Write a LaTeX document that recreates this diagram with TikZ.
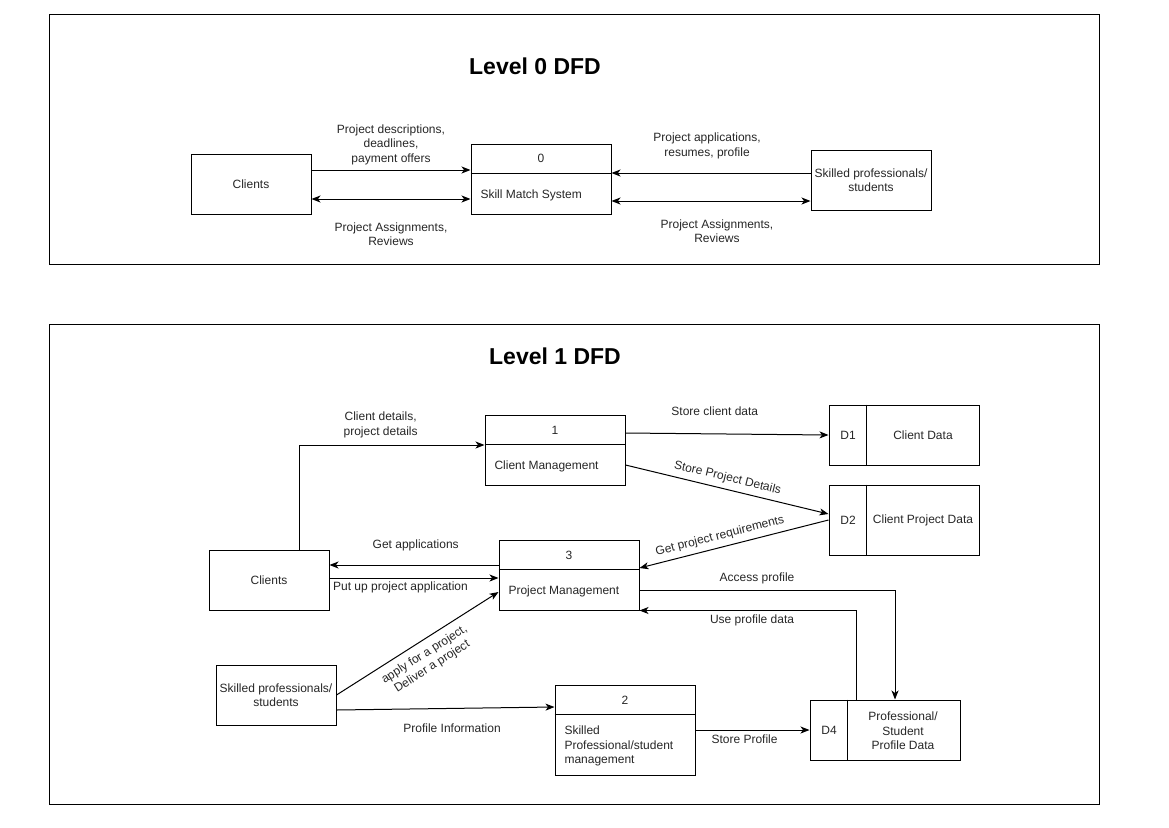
\documentclass[tikz,border=0pt]{standalone}
\usepackage{fontspec}
\setmainfont{Liberation Sans}
\usetikzlibrary{arrows.meta}

\begin{document}
\begin{tikzpicture}[x=1pt,y=-1pt]
\tikzset{every node/.style = {font=\fontsize{12pt}{14.5pt}\selectfont, text=black!85}}
\tikzset{frame/.style = {draw, line width=1pt, inner sep=0pt, minimum width=1050pt}}
\tikzset{title/.style = {font=\fontsize{23pt}{26pt}\selectfont\bfseries, text=black}}
\tikzset{entity/.style = {draw, line width=1pt, align=center, inner sep=0pt, minimum width=120pt, minimum height=60pt}}
\tikzset{proc/.style = {draw, line width=1pt, inner sep=0pt, minimum width=140pt, minimum height=70pt}}
\tikzset{store/.style = {draw, line width=1pt, inner sep=0pt, minimum width=150pt, minimum height=60pt}}
\tikzset{edge/.style = {-{Stealth[length=9pt,width=7pt,inset=2.5pt]}, line width=1pt}}
\tikzset{both/.style = {{Stealth[length=9pt,width=7pt,inset=2.5pt]}-{Stealth[length=9pt,width=7pt,inset=2.5pt]}, line width=1pt}}
\tikzset{lbl/.style = {align=center, inner sep=2pt}}
\tikzset{divide/.style = {line width=1pt}}
\useasboundingbox (0,0) rectangle (1169,827);
% frames
\node[frame, minimum height=250pt] (lvl0) at (574,139) {};
\node[frame, minimum height=480pt] (lvl1) at (574,564) {};
\node[title] (title0) at (535,66) {Level 0 DFD};
\node[title] (title1) at (555,356) {Level 1 DFD};
% level 0 vertices
\node[entity] (client0) at (251,184) {Clients};
\node[proc] (sys0) at (541,179) {};
\draw[divide] ([yshift=-30pt]sys0.north west) -- ([yshift=-30pt]sys0.north east);
\node (sys0id) at (541,158) {0};
\node[anchor=west] (sys0name) at (477,195) {Skill Match System};
\node[entity] (pro0) at (871,180) {Skilled professionals/\\students};
% level 0 edges
\draw[edge] ([yshift=14pt]client0.east) -- ([yshift=14pt]client0.east -| sys0.west)
  node[lbl, midway, above=3pt] (l01) {Project descriptions,\\deadlines,\\payment offers};
\draw[both] ([yshift=-15pt]client0.east) -- ([yshift=-15pt]client0.east -| sys0.west)
  node[lbl, midway, below=21pt] (l02) {Project Assignments,\\Reviews};
\draw[edge] ([yshift=7pt]pro0.west) -- ([yshift=7pt]pro0.west -| sys0.east)
  node[lbl, pos=0.52, above=12pt] (l03) {Project applications,\\resumes, profile};
\draw[both] ([yshift=-21pt]pro0.west) -- ([yshift=-21pt]pro0.west -| sys0.east)
  node[lbl, pos=0.47, below=16pt] (l04) {Project Assignments,\\Reviews};
% level 1 vertices
\node[proc] (cm) at (555,450) {};
\draw[divide] ([yshift=-30pt]cm.north west) -- ([yshift=-30pt]cm.north east);
\node (cmid) at (555,430) {1};
\node[anchor=west] (cmname) at (491,466) {Client Management};
\node[store] (cd) at (904,435) {};
\draw[divide] ([xshift=38pt]cd.north west) -- ([xshift=38pt]cd.south west);
\node (cdid) at (848,435) {D1};
\node (cdname) at (923,435) {Client Data};
\node[store, minimum height=70pt] (cpd) at (904,520) {};
\draw[divide] ([xshift=38pt]cpd.north west) -- ([xshift=38pt]cpd.south west);
\node (cpdid) at (848,520) {D2};
\node (cpdname) at (923,520) {Client Project Data};
\node[proc] (pm) at (569,575) {};
\draw[divide] ([yshift=-30pt]pm.north west) -- ([yshift=-30pt]pm.north east);
\node (pmid) at (569,555) {3};
\node[anchor=west] (pmname) at (505,591) {Project Management};
\node[entity] (client1) at (269,580) {Clients};
\node[entity] (pro1) at (276,695) {Skilled professionals/\\students};
\node[proc, minimum height=90pt] (spm) at (625,730) {};
\draw[divide] ([yshift=-30pt]spm.north west) -- ([yshift=-30pt]spm.north east);
\node (spmid) at (625,700) {2};
\node[anchor=west, align=left] (spmname) at (561,746) {Skilled\\Professional/student\\management};
\node[store] (ppd) at (885,730) {};
\draw[divide] ([xshift=38pt]ppd.north west) -- ([xshift=38pt]ppd.south west);
\node (ppdid) at (829,730) {D4};
\node[align=center] (ppdname) at (903,731) {Professional/\\Student\\Profile Data};
% level 1 edges
\draw[edge] ([xshift=30pt]client1.north) |- ([yshift=5pt]cm.west)
  node[lbl, pos=0.72, above=5pt] (l11) {Client details,\\project details};
\draw[edge] ([yshift=17pt]cm.east) -- (cd.west)
  node[lbl, pos=0.44, above=16pt] (l12) {Store client data};
\draw[edge] ([yshift=-15pt]cm.east) -- ([yshift=6pt]cpd.west)
  node[lbl, sloped, pos=0.49, above=3pt] (l13) {Store Project Details};
\draw[edge] (cpd.west) -- ([yshift=7pt]pm.east)
  node[lbl, sloped, pos=0.56, above=3pt] (l14) {Get project requirements};
\draw[edge] ([yshift=10pt]pm.west) -- ([yshift=10pt]pm.west -| client1.east)
  node[lbl, pos=0.49, above=12pt] (l15) {Get applications};
\draw[edge] ([yshift=2pt]client1.east) -- ([yshift=2pt]client1.east -| pm.west)
  node[lbl, pos=0.42, below=1pt] (l16) {Put up project application};
\draw[edge] ([yshift=-15pt]pm.east) -| ([xshift=10pt]ppd.north)
  node[lbl, pos=0.23, above=4pt] (l17) {Access profile};
\draw[edge] ([xshift=-29pt]ppd.north) |- (pm.south east)
  node[lbl, pos=0.74, below=2pt] (l18) {Use profile data};
\draw[edge] (pro1.east) -- ([yshift=-17pt]pm.west)
  node[lbl, sloped, pos=0.5, below=5pt] (l19) {apply for a project,\\Deliver a project};
\draw[edge] ([yshift=-15pt]pro1.east) -- ([yshift=23pt]spm.west)
  node[lbl, pos=0.53, below=13pt] (l20) {Profile Information};
\draw[edge] (spm.east) -- (ppd.west)
  node[lbl, pos=0.43, below=2pt] (l21) {Store Profile};
\end{tikzpicture}
\end{document}
